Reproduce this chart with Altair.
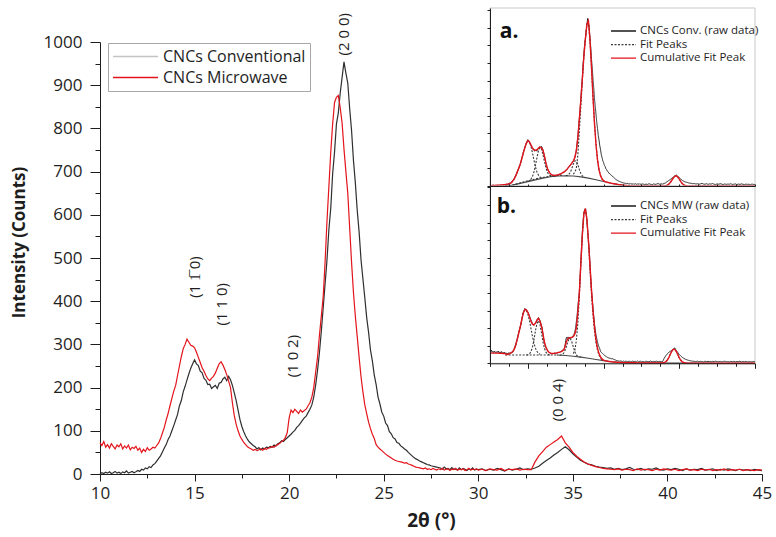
import altair as alt
import pandas as pd


def grid(start, step, n):
    return [round(start + step * i, 2) for i in range(n)]


# ---------------- main diffractograms ----------------
# 2θ sampling: 0.1° steps from 10.0 to 29.9, then 0.2° steps from 30.0 to 45.0
two_theta = grid(10.0, 0.1, 200) + grid(30.0, 0.2, 76)

series_names = ["CNCs Conventional", "CNCs Microwave"]

conventional = [
    0, 3, 1, 4, 2, 5, 1, 3, 6, 2,
    4, 1, 5, 3, 7, 2, 4, 6, 3, 5,
    8, 6, 11, 9, 14, 12, 17, 15, 21, 24,
    30, 36, 42, 51, 60, 68, 80, 88, 100, 112,
    125, 138, 158, 170, 190, 203, 218, 232, 245, 255,
    264, 255, 251, 238, 234, 221, 217, 207, 208, 198,
    202, 205, 198, 210, 212, 220, 224, 216, 226, 218,
    205, 188, 170, 148, 126, 110, 98, 88, 80, 74,
    70, 66, 63, 58, 61, 56, 60, 58, 62, 61,
    64, 62, 67, 65, 70, 72, 77, 75, 80, 84,
    88, 92, 97, 101, 108, 112, 118, 124, 130, 134,
    142, 150, 160, 178, 205, 240, 280, 330, 385, 440,
    495, 565, 615, 695, 745, 810, 836, 882, 918, 954,
    928, 905, 846, 795, 726, 674, 610, 560, 496, 452,
    408, 362, 328, 287, 262, 229, 207, 178, 162, 143,
    134, 118, 112, 98, 93, 84, 81, 73, 71, 65,
    62, 58, 55, 50, 46, 42, 38, 35, 33, 30,
    28, 26, 24, 22, 21, 19, 18, 17, 16, 15,
    14, 11, 16, 12, 13, 10, 15, 11, 12, 9,
    14, 10, 13, 11, 8, 12, 10, 14, 9, 11,
    # 30.0 .. 45.0 (0.2 steps)
    10, 12, 8, 11, 9, 13, 10, 7, 12, 9,
    11, 14, 10, 12, 11, 14, 18, 25, 31, 37,
    44, 50, 57, 63, 56, 47, 39, 32, 27, 23,
    21, 18, 16, 15, 13, 14, 11, 13, 10, 12,
    15, 11, 10, 13, 9, 12, 11, 14, 10, 9,
    12, 10, 13, 11, 8, 12, 9, 11, 10, 13,
    9, 10, 12, 8, 11, 9, 12, 10, 8, 11,
    9, 10, 8, 11, 9, 8,
]

microwave = [
    72, 66, 75, 62, 68, 60, 70, 64, 58, 67,
    63, 70, 58, 65, 60, 67, 56, 62, 59, 64,
    55, 60, 50, 57, 52, 61, 55, 58, 62, 60,
    66, 72, 82, 95, 108, 125, 140, 158, 175, 192,
    205, 228, 250, 272, 290, 300, 312, 305, 298, 296,
    292, 282, 270, 258, 246, 238, 228, 220, 216, 222,
    226, 234, 245, 255, 260, 252, 242, 230, 215, 200,
    165, 135, 115, 100, 88, 80, 73, 68, 63, 60,
    58, 55, 57, 54, 56, 58, 55, 59, 57, 60,
    61, 64, 62, 66, 68, 71, 75, 78, 84, 96,
    130, 148, 142, 150, 145, 140, 148, 143, 147, 150,
    158, 165, 178, 200, 235, 270, 320, 365, 410, 490,
    585, 665, 745, 810, 860, 872, 876, 848, 812, 752,
    700, 650, 570, 490, 420, 365, 318, 270, 225, 190,
    160, 140, 120, 105, 92, 82, 68, 62, 58, 54,
    50, 46, 43, 40, 37, 34, 32, 30, 29, 28,
    27, 25, 26, 23, 22, 20, 18, 16, 15, 14,
    13, 12, 14, 11, 12, 10, 13, 11, 9, 12,
    10, 13, 9, 11, 12, 8, 11, 10, 13, 9,
    11, 10, 12, 8, 10, 13, 9, 11, 10, 12,
    # 30.0 .. 45.0 (0.2 steps)
    9, 11, 8, 12, 10, 9, 13, 8, 11, 10,
    12, 9, 11, 10, 10, 28, 42, 52, 62, 68,
    74, 80, 88, 72, 62, 50, 41, 34, 28, 23,
    20, 17, 15, 13, 12, 11, 10, 12, 9, 11,
    10, 8, 12, 9, 11, 10, 8, 11, 9, 12,
    10, 9, 11, 8, 10, 12, 9, 10, 8, 11,
    9, 11, 8, 10, 9, 12, 8, 10, 9, 11,
    8, 10, 9, 8, 10, 9,
]

x_tick_values = [10 + 2.5 * i for i in range(15)]
y_tick_values = list(range(0, 1001, 50))

# Miller-index annotations
hkl_labels = ["(1 1\u0305 0)", "(1 1 0)", "(1 0 2)", "(2 0 0)", "(0 0 4)"]
hkl_theta = [15.0, 16.45, 20.2, 22.9, 34.2]
hkl_intensity = [456, 393, 273, 1018, 171]

# ---------------- inset a: conventional, peak fit ----------------
comp_a = ["CNCs Conv. (raw data)", "Fit Peaks", "Cumulative Fit Peak"]
baseline_a_theta = grid(12.0, 1.0, 17)
baseline_a = [0, 5, 15, 25, 35, 45, 53, 57, 58, 57, 52, 45, 36, 26, 16, 8, 2]
amorph_a_theta = grid(12.5, 1.0, 8)
amorph_a = [0, 12, 24, 35, 45, 53, 58, 61]
peak1_a = [2, 4, 7, 12, 18, 28, 40, 58, 80, 101, 125, 156, 188, 218, 243, 258, 251, 228, 190, 148,
           109, 80, 62, 52, 46, 46]
peak2_a = [26, 30, 38, 53, 79, 117, 162, 201, 219, 210, 178, 138, 102, 77, 64, 59, 57, 57]
peak3_a = [59, 60, 65, 77, 98, 125, 143, 142, 122, 94, 71, 58, 51, 48]
peak4_a = [67, 78, 100, 174, 313, 452, 601, 739, 838, 921, 935, 833, 681, 510, 358, 236, 149, 92, 58, 40, 30, 25]
peak5_a = [0, 2, 4, 10, 19, 32, 45, 55, 58, 51, 39, 25, 14, 6, 3, 1]
fits_a = [
    ("amorph", amorph_a_theta, amorph_a),
    ("p1", grid(12.0, 0.2, 26), peak1_a),
    ("p2", grid(15.0, 0.2, 18), peak2_a),
    ("p3", grid(20.0, 0.2, 14), peak3_a),
    ("p4", grid(21.0, 0.2, 22), peak4_a),
    ("p5", grid(33.0, 0.2, 16), peak5_a),
]
cum_theta = (grid(10.0, 1.0, 3) + grid(12.2, 0.2, 70) + grid(27.0, 1.0, 6)
             + grid(32.6, 0.2, 20) + grid(37.0, 1.0, 9))
cum_a = [
    2, 4, 8,
    10, 11, 14, 18, 28, 40, 58, 80, 101, 125,
    156, 188, 218, 243, 258, 252, 235, 217, 206, 203,
    207, 215, 222, 218, 202, 168, 128, 98, 80, 69,
    63, 61, 60, 62, 64, 67, 70, 76, 80, 88,
    97, 108, 118, 130, 142, 162, 200, 275, 380, 490,
    612, 741, 838, 921, 940, 833, 681, 510, 358, 236,
    149, 92, 58, 40, 30, 25, 22, 20, 18, 16,
    8, 2, 0, 0, 0, 0,
    0, 0, 0, 2, 4, 10, 19, 32, 45, 55, 58, 51, 39, 25, 14, 6, 3, 1, 0, 0,
    0, 0, 0, 0, 0, 0, 0, 0, 0,
]

# ---------------- inset b: microwave, peak fit ----------------
comp_b = ["CNCs MW (raw data)", "Fit Peaks", "Cumulative Fit Peak"]
baseline_b_theta = [18.8, 20, 21, 22, 23, 24, 25, 26, 27, 28, 30, 35, 40, 45]
baseline_b = [47, 44, 40, 35, 29, 22, 15, 9, 5, 3, 2, 1, 0, 0]
amorph_b_theta = grid(12.0, 1.0, 8)
amorph_b = [47, 47, 47, 47, 47, 47, 47, 47]
peak1_b = [55, 60, 66, 80, 104, 136, 172, 208, 248, 286, 304, 300, 280, 245, 200, 155, 115, 86, 68, 56, 51]
peak2_b = [47, 49, 53, 65, 90, 132, 184, 227, 242, 220, 173, 122, 84, 62, 52, 48, 47]
peak3_b = [46, 48, 51, 62, 83, 111, 135, 141, 123, 93, 66, 48, 40, 37, 35]
peak4_b = [55, 74, 128, 227, 376, 555, 724, 848, 882, 820, 689, 538, 396, 275, 183, 117, 73, 46, 30, 21, 16]
peak5_b = [2, 4, 8, 17, 31, 50, 68, 79, 79, 68, 50, 31, 17, 8, 4, 2]
fits_b = [
    ("amorph", amorph_b_theta, amorph_b),
    ("p1", grid(12.6, 0.2, 21), peak1_b),
    ("p2", grid(14.8, 0.2, 17), peak2_b),
    ("p3", grid(19.2, 0.2, 15), peak3_b),
    ("p4", grid(21.0, 0.2, 21), peak4_b),
    ("p5", grid(32.8, 0.2, 16), peak5_b),
]
cum_b = [
    58, 58, 55,
    50, 52, 55, 60, 66, 80, 104, 136, 172, 208,
    248, 286, 306, 305, 290, 266, 240, 222, 218, 228,
    245, 255, 240, 210, 165, 118, 90, 72, 62, 57,
    56, 56, 57, 58, 61, 63, 66, 71, 80, 110,
    135, 144, 146, 147, 152, 165, 200, 290, 400, 570,
    735, 850, 880, 818, 700, 560, 420, 300, 205, 135,
    85, 55, 36, 25, 18, 15, 13, 11, 10, 9,
    5, 3, 3, 2, 2, 2,
    2, 2, 4, 8, 17, 31, 50, 68, 79, 79, 68, 50, 31, 17, 8, 4, 2, 1, 1, 1,
    1, 1, 1, 0, 0, 0, 0, 0, 0,
]

# ---------------- styling ----------------
FONT = "Open Sans"
INK = "#1e1e1e"
RED = "#e3141b"
DARK = "#2f2f2f"

n = len(two_theta)
conv_df = pd.DataFrame({"theta": two_theta, "intensity": conventional})
mw_df = pd.DataFrame({"theta": two_theta, "intensity": microwave})
main_df = pd.DataFrame({
    "theta": two_theta + two_theta,
    "intensity": conventional + microwave,
    "series": [series_names[0]] * n + [series_names[1]] * n,
})
hkl_df = pd.DataFrame({"label": hkl_labels, "theta": hkl_theta, "intensity": hkl_intensity})


def x_main():
    return alt.Scale(domain=[10, 45], nice=False, zero=False)


def y_main():
    return alt.Scale(domain=[0, 1000], nice=False, zero=False)


x_axis = alt.Axis(
    values=x_tick_values, format="d",
    labelExpr="datum.value % 5 === 0 ? datum.label : ''",
    tickSize={"condition": {"test": "datum.value % 5 === 0", "value": 7}, "value": 4},
    labelPadding=4, labelFontSize=17, labelFont=FONT, labelFlush=False, labelOverlap=False,
    title="2θ (°)", titleFontSize=19, titleFontWeight="bold", titleFont=FONT,
    titleY=46, titleBaseline="middle",
    domainColor=INK, tickColor=INK, labelColor=INK, titleColor=INK, grid=False,
)
y_axis = alt.Axis(
    values=y_tick_values, format="d",
    labelExpr="datum.value % 100 === 0 ? datum.label : ''",
    tickSize={"condition": {"test": "datum.value % 100 === 0", "value": 10}, "value": 5},
    labelPadding=8, labelFontSize=17, labelFont=FONT, labelFlush=False, labelOverlap=False,
    title="Intensity (Counts)", titleFontSize=17, titleFontWeight="bold", titleFont=FONT,
    titleX=-81, titleY=200, titleBaseline="middle", titleAngle=270, titleAlign="center",
    domainColor=INK, tickColor=INK, labelColor=INK, titleColor=INK, grid=False,
)

main_legend = alt.Legend(
    orient="none", legendX=8, legendY=1, title=None,
    symbolType="stroke", symbolSize=2025, symbolStrokeWidth=1.4,
    labelFont=FONT, labelFontSize=16, labelColor=INK, labelOffset=4, labelLimit=400,
    clipHeight=19, rowPadding=2, padding=4,
    strokeColor="#a8a8a8", fillColor="white",
)

layers = []
layers.append(alt.Chart(main_df).transform_filter("datum.intensity < 0").mark_line().encode(
    x=alt.X("theta:Q", scale=x_main(), axis=None),
    y=alt.Y("intensity:Q", scale=y_main(), axis=None),
    color=alt.Color("series:N", scale=alt.Scale(domain=series_names, range=["#c4c4c4", RED]),
                    legend=main_legend),
))
layers.append(alt.Chart(conv_df).mark_line(color=DARK, strokeWidth=1.2).encode(
    x=alt.X("theta:Q", scale=x_main(), axis=x_axis),
    y=alt.Y("intensity:Q", scale=y_main(), axis=y_axis),
))
layers.append(alt.Chart(mw_df).mark_line(color=RED, strokeWidth=1.2).encode(
    x=alt.X("theta:Q", scale=x_main(), axis=None),
    y=alt.Y("intensity:Q", scale=y_main(), axis=None),
))
layers.append(alt.Chart(hkl_df).mark_text(angle=270, font=FONT, fontSize=15, color=INK).encode(
    x=alt.X("theta:Q", scale=x_main(), axis=None),
    y=alt.Y("intensity:Q", scale=y_main(), axis=None),
    text="label:N",
))


def add_inset(field, comps, raw_vals, fits, cum_vals, base_theta, base_vals,
              y_max, y_range, x_axis_def, legend_y, tag, tag_theta, tag_value):
    def xs():
        return alt.Scale(domain=[10, 45], range=[390, 655], nice=False, zero=False)

    def ys():
        return alt.Scale(domain=[0, y_max], range=y_range, nice=False, zero=False)

    def xy():
        return dict(x=alt.X("theta:Q", scale=xs(), axis=None),
                    y=alt.Y("value:Q", scale=ys(), axis=None))

    y_axis_def = alt.Axis(
        orient="left", offset=-390, values=list(range(0, 1001, 100)), labels=False,
        tickSize=3, domainColor=INK, tickColor=INK, title=None, grid=False, zindex=2,
    )
    frame_df = pd.DataFrame({"x0": [10], "x1": [45], "y0": [0], "y1": [y_max]})
    layers.append(alt.Chart(frame_df).mark_rect(filled=False, stroke="#c9c9c9", strokeWidth=1).encode(
        x=alt.X("x0:Q", scale=xs(), axis=x_axis_def), x2="x1:Q",
        y=alt.Y("y0:Q", scale=ys(), axis=y_axis_def), y2="y1:Q",
    ))
    leg = alt.Legend(
        orient="none", legendX=510, legendY=legend_y, title=None,
        symbolType="stroke", symbolSize=625, symbolStrokeWidth=1.3,
        labelFont=FONT, labelFontSize=11.5, labelColor=INK, labelOffset=3, labelLimit=300,
        clipHeight=12, rowPadding=1.6, padding=0,
    )

    def style(with_legend):
        cscale = alt.Scale(domain=comps, range=["#1a1a1a", "#3a3a3a", RED])
        dscale = alt.Scale(domain=comps, range=[[1, 0], [2, 1.5], [1, 0]])
        if with_legend:
            return dict(color=alt.Color(f"{field}:N", scale=cscale, legend=leg),
                        strokeDash=alt.StrokeDash(f"{field}:N", scale=dscale, legend=leg))
        return dict(color=alt.Color(f"{field}:N", scale=cscale, legend=None),
                    strokeDash=alt.StrokeDash(f"{field}:N", scale=dscale, legend=None))

    raw_df = pd.DataFrame({"theta": two_theta, "value": raw_vals, field: comps[0]})
    fit_rows = []
    for name, th, vals in fits:
        for t, v in zip(th, vals):
            fit_rows.append({"theta": t, "value": v, "peak": name, field: comps[1]})
    fit_df = pd.DataFrame(fit_rows)
    cum_df = pd.DataFrame({"theta": cum_theta, "value": cum_vals, field: comps[2]})
    base_df = pd.DataFrame({"theta": base_theta, "value": base_vals})
    tag_df = pd.DataFrame({"theta": [tag_theta], "value": [tag_value], "txt": [tag]})

    layers.append(alt.Chart(base_df).mark_line(color="#4a4a4a", strokeWidth=1.1).encode(**xy()))
    layers.append(alt.Chart(raw_df).mark_line(strokeWidth=0.9).encode(**xy(), **style(True)))
    layers.append(alt.Chart(fit_df).mark_line(strokeWidth=1.1).encode(
        detail="peak:N", **xy(), **style(False)))
    layers.append(alt.Chart(cum_df).mark_line(strokeWidth=1.4).encode(**xy(), **style(False)))
    layers.append(alt.Chart(tag_df).mark_text(
        font=FONT, fontSize=21, fontWeight="bold", align="left", baseline="middle", color="#111"
    ).encode(text="txt:N", **xy()))


axis_a_x = alt.Axis(orient="top", offset=-144, values=x_tick_values, labels=False, tickSize=2,
                    domainColor=INK, tickColor=INK, title=None, grid=False, zindex=2)
axis_b_x = alt.Axis(orient="bottom", offset=-110.7, values=x_tick_values, labels=False,
                    tickSize={"condition": {"test": "(datum.value - 5) % 10 === 0", "value": 5}, "value": 3},
                    domainColor=INK, tickColor=INK, title=None, grid=False, zindex=2)

add_inset("comp_a", comp_a, conventional, fits_a, cum_a, baseline_a_theta, baseline_a,
          1013, [144, -34], axis_a_x, -17, "a.", 11.3, 877)
add_inset("comp_b", comp_b, microwave, fits_b, cum_b, baseline_b_theta, baseline_b,
          1008, [321.3, 144], axis_b_x, 158, "b.", 10.9, 890)

chart = alt.layer(*layers).resolve_scale(
    x="independent", y="independent", color="independent", strokeDash="independent"
).properties(
    width=662, height=432,
    autosize=alt.AutoSizeParams(type="none"),
    padding={"left": 100, "top": 42, "right": 14, "bottom": 63},
).configure(font=FONT).configure_view(stroke=None).configure_axis(grid=False)

chart.save("out.html", embed_options={"renderer": "svg", "actions": False})
